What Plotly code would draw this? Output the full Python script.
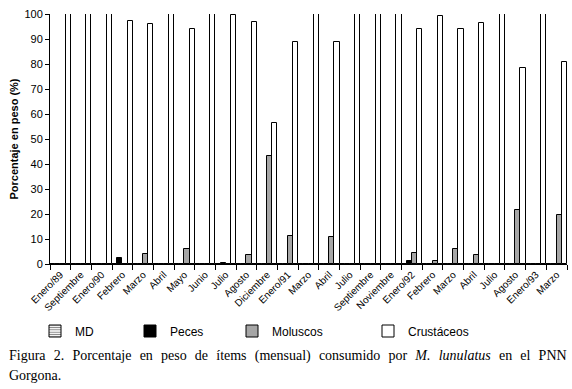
import plotly.graph_objects as go

months = ["Enero/89", "Septiembre", "Enero/90", "Febrero", "Marzo", "Abril", "Mayo",
          "Junio", "Julio", "Agosto", "Diciembre", "Enero/91", "Marzo", "Abril", "Julio",
          "Septiembre", "Noviembre", "Enero/92", "Febrero", "Marzo", "Abril", "Julio",
          "Agosto", "Enero/93", "Marzo"]
md = [0, 0, 0, 0, 0, 0, 0, 0, 0, 0, 0, 0, 0, 0, 0, 0, 0, 0, 0, 0, 0, 0, 0, 0, 0]
peces = [0, 0, 0, 2.4, 0, 0, 0, 0, 0.5, 0, 0, 0, 0, 0, 0, 0, 0, 1.1, 0, 0, 0, 0, 0, 0, 0]
moluscos = [0, 0, 0, 0, 4.0, 0, 6.0, 0, 0, 3.5, 43.2, 11.3, 0, 11.0, 0, 0, 0, 4.3, 1.2,
            5.9, 3.6, 0, 21.5, 0, 19.6]
crustaceos = [100, 100, 100, 97.3, 96, 100, 94, 100, 99.6, 96.7, 56.5, 89, 100, 89, 100,
              100, 100, 94.1, 99.1, 94.1, 96.3, 100, 78.5, 100, 80.7]
yticks = [0, 10, 20, 30, 40, 50, 60, 70, 80, 90, 100]

x = list(range(len(months)))

# plot area geometry (pixels)
W, H = 572, 389
L, R, T, B = 50, 5, 14, 125
pw, ph = W - L - R, H - T - B

def px_x(p):
    return (p - L) / pw

def px_y(p):
    return (H - B - p) / ph

line = dict(color="black", width=1)
fig = go.Figure()
fig.add_trace(go.Bar(x=x, y=md, name="MD", legend="legend", cliponaxis=False,
                     marker=dict(color="white", line=line,
                                 pattern=dict(shape="-", fgcolor="black", bgcolor="white",
                                              size=3, solidity=0.4))))
fig.add_trace(go.Bar(x=x, y=peces, name="Peces", legend="legend2", cliponaxis=False,
                     marker=dict(color="black", line=line)))
fig.add_trace(go.Bar(x=x, y=moluscos, name="Moluscos", legend="legend3", cliponaxis=False,
                     marker=dict(color="#a6a6a6", line=line)))
fig.add_trace(go.Bar(x=x, y=crustaceos, name="Crustáceos", legend="legend4",
                     cliponaxis=False, marker=dict(color="white", line=line)))

leg_font = dict(family="Arial, Liberation Sans", size=12, color="black")
ly = px_y(331)
def leg(xp):
    return dict(x=px_x(xp), y=ly, xanchor="left", yanchor="middle", font=leg_font,
                bgcolor="rgba(0,0,0,0)", itemwidth=30, tracegroupgap=0)

# justified caption line: widen the word gaps
words = ["Figura", "2.", "Porcentaje", "en", "peso", "de", "ítems", "(mensual)",
         "consumido", "por", "<i>M.", "lunulatus</i>", "en", "el", "PNN"]
caption1 = " \u2004".join(words)

fig.update_layout(
    width=W, height=H,
    margin=dict(l=L, r=R, t=T, b=B, pad=0, autoexpand=False),
    paper_bgcolor="white", plot_bgcolor="white",
    barmode="group", bargap=0, bargroupgap=0,
    showlegend=True,
    font=dict(family="Arial, Liberation Sans", color="black"),
    legend=leg(35), legend2=leg(130), legend3=leg(232), legend4=leg(368),
    xaxis=dict(range=[-0.5, len(months) - 0.5], tickmode="array", tickvals=x,
               ticktext=months, tickangle=-45, tickfont=dict(size=10),
               ticks="", showline=True, linecolor="black", linewidth=1,
               showgrid=False, zeroline=False, automargin=False,
               minor=dict(tickmode="array", tickvals=[i - 0.5 for i in range(len(months) + 1)],
                          ticks="outside", ticklen=5, tickcolor="black", tickwidth=1,
                          showgrid=False)),
    yaxis=dict(range=[0, 100], tickmode="array", tickvals=yticks, ticks="outside",
               ticklen=4, tickcolor="black", tickfont=dict(size=11),
               showline=True, linecolor="black", linewidth=1, showgrid=False,
               zeroline=False, automargin=False,
               title=dict(text="<b>Porcentaje en peso (%)</b>", font=dict(size=11),
                          standoff=3)),
    annotations=[
        dict(text=caption1,
             xref="paper", yref="paper", x=px_x(7), y=px_y(356), xanchor="left",
             yanchor="middle", showarrow=False,
             font=dict(family="Liberation Serif, Times New Roman", size=14)),
        dict(text="Gorgona.", xref="paper", yref="paper", x=px_x(7), y=px_y(375),
             xanchor="left", yanchor="middle", showarrow=False,
             font=dict(family="Liberation Serif, Times New Roman", size=14)),
    ],
)

fig.write_html("out.html", config={"displayModeBar": False},
               post_script="document.body.style.margin='0';"
                           "document.documentElement.style.overflow='hidden';")
